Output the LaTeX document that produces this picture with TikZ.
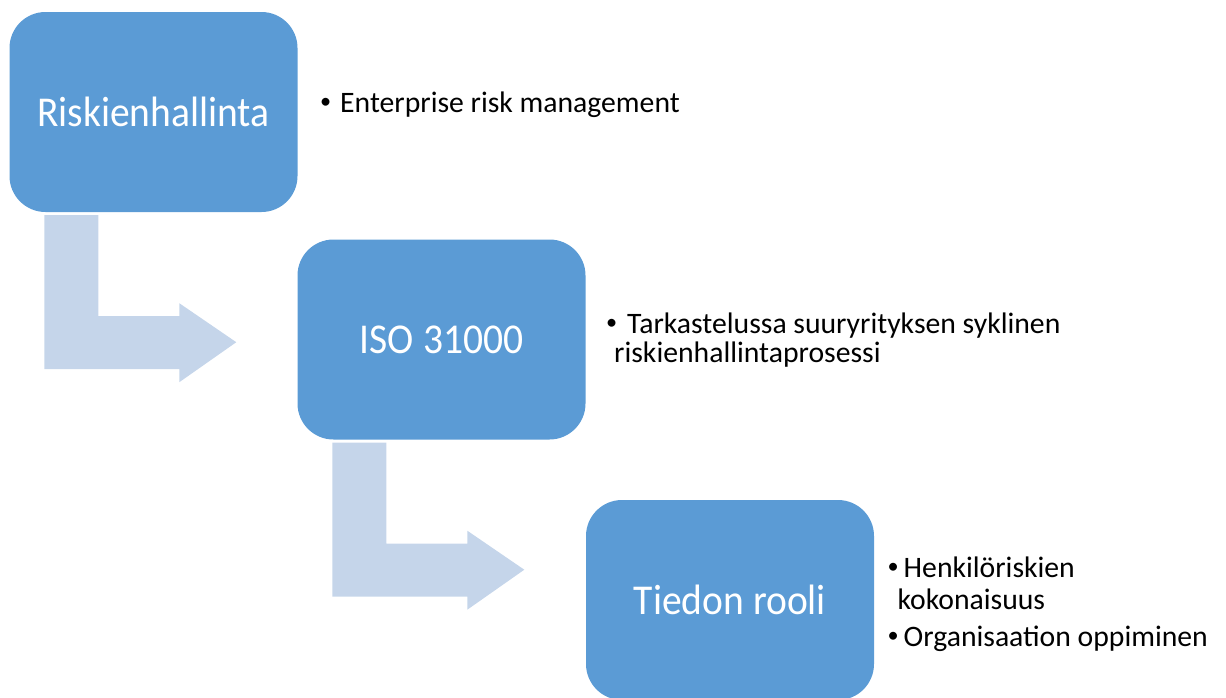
\documentclass[tikz,border=0pt]{standalone}
\usepackage{fontspec}
\setmainfont{Carlito}
\usetikzlibrary{calc}
\definecolor{boxblue}{HTML}{5B9BD5}
\definecolor{arrowblue}{HTML}{C5D5EA}
\newcommand\blt[1]{\makebox[#1][l]{\raisebox{4pt}{\scalebox{0.75}{\textbullet}}}}
\newcommand\stagetxt[1]{\scalebox{0.93}[1]{#1}}
\begin{document}
\begin{tikzpicture}[x=1pt,y=-1pt,
  stage/.style={rectangle, rounded corners=36pt, fill=boxblue, text=white,
    minimum width=288pt, minimum height=200pt, inner sep=0pt,
    font=\fontsize{42.5}{46}\selectfont},
  txt/.style={anchor=base west, inner sep=0pt, font=\fontsize{29.7}{31}\selectfont},
  bendarrow/.style={fill=arrowblue}]
\useasboundingbox (0,0) rectangle (1226,697);
\clip (0,0) rectangle (1226,697);
% stages
\node[stage] (b1) at (153.5,112) {\stagetxt{Riskienhallinta}};
\node[stage] (b2) at (441.5,339.5) {\stagetxt{ISO 31000}};
\node[stage] (b3) at (730,600) {\stagetxt{Tiedon rooli}};
% bent arrows
\begin{scope}[shift={(b1.south west)}]
\fill[bendarrow] (35,3) -- (89,3) -- (89,104) -- (170,104) -- (170,91)
  -- (227,130) -- (170,170) -- (170,157) -- (35,157) -- cycle;
\end{scope}
\begin{scope}[shift={(b2.south west)}]
\fill[bendarrow] (35,3) -- (89,3) -- (89,104) -- (170,104) -- (170,91)
  -- (227,130) -- (170,170) -- (170,157) -- (35,157) -- cycle;
\end{scope}
% texts
\node[txt] (t1) at (320,112) {\blt{20pt}Enterprise risk management};
\node[txt] (t2a) at (606,333) {\blt{21pt}Tarkastelussa suuryrityksen syklinen};
\node[txt] (t2b) at (614,362) {riskienhallintaprosessi};
\node[txt] (t3a) at (887.5,577) {\blt{16pt}Henkilöriskien};
\node[txt] (t3b) at (897.5,609) {kokonaisuus};
\node[txt] (t3c) at (887.5,646) {\blt{16pt}Organisaation oppiminen};
\end{tikzpicture}
\end{document}
